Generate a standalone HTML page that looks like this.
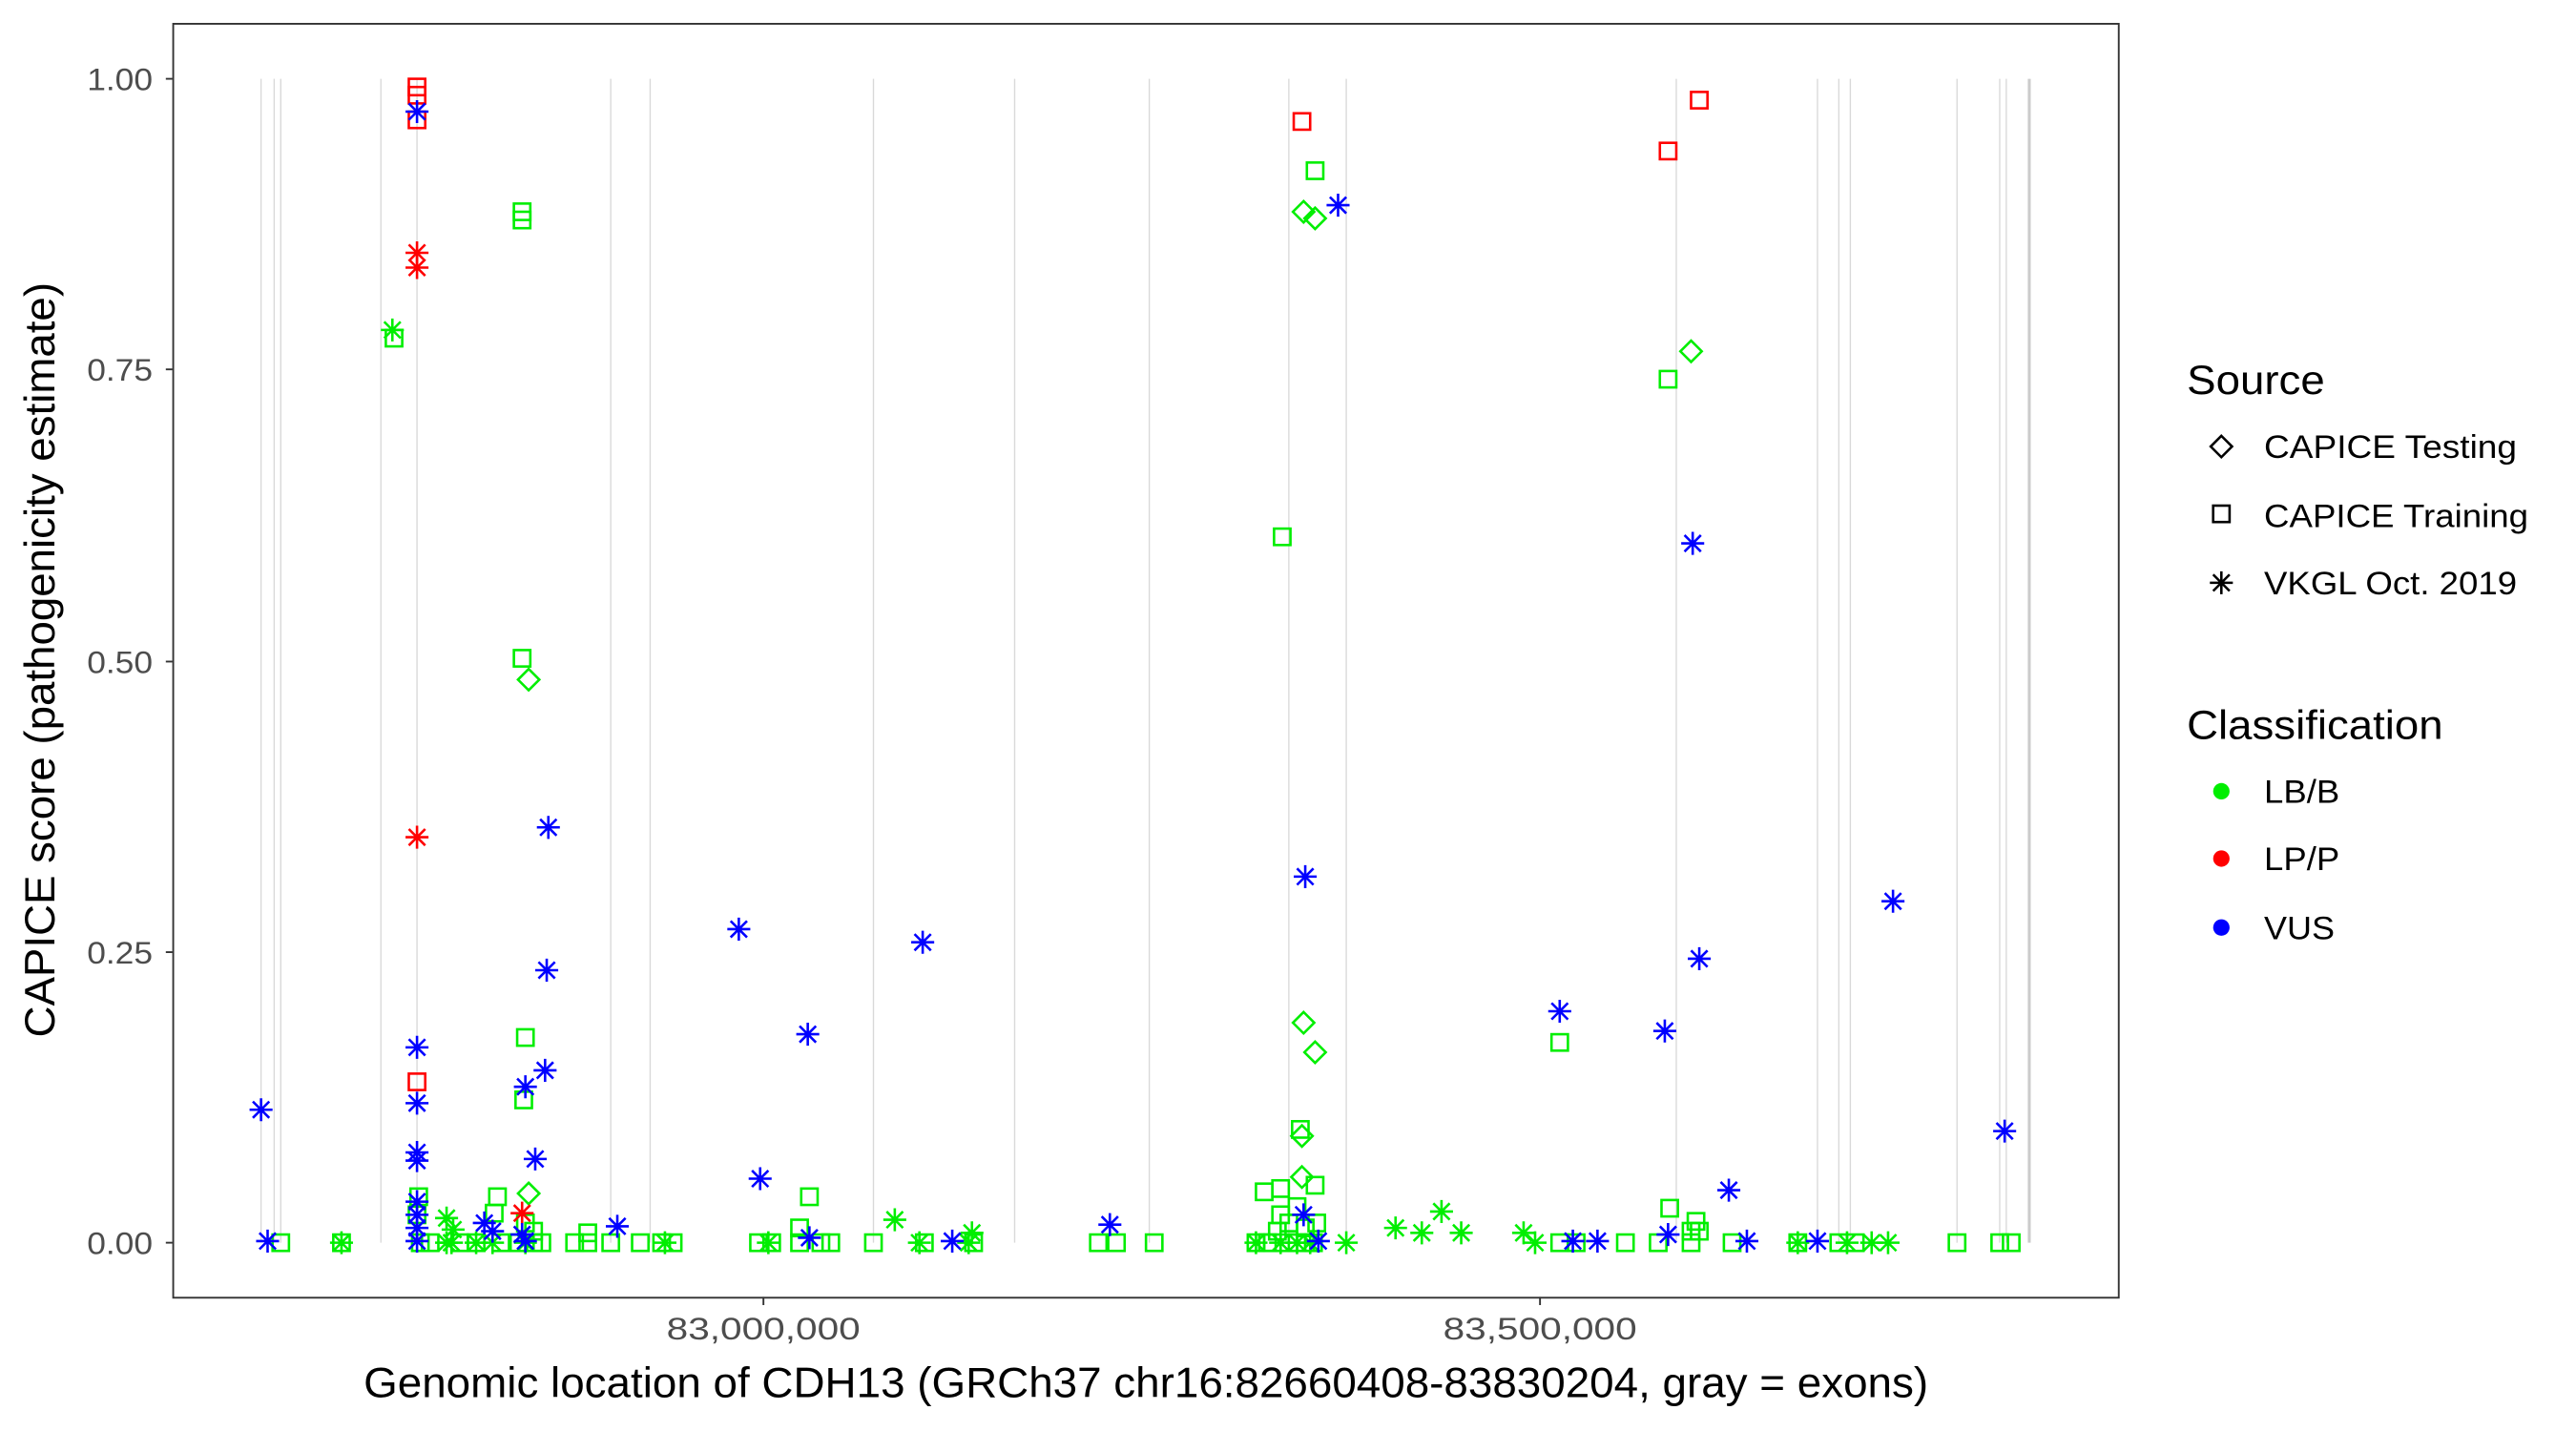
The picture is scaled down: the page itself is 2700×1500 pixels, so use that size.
<!DOCTYPE html>
<html><head><meta charset="utf-8"><style>
html,body{margin:0;padding:0;background:#fff;}
svg{display:block;}
text{font-family:"Liberation Sans",Arial,sans-serif;}
</style></head><body>
<svg id="s" width="2700" height="1500" viewBox="0 0 1569 871.7" preserveAspectRatio="none" xmlns="http://www.w3.org/2000/svg">
<rect x="0" y="0" width="1569" height="872" fill="#fff"/>
<g id="ex" stroke="#d9d9d9" stroke-width="0.8"></g>
<g id="pts" fill="none" stroke-width="1.5"></g>
<rect x="105.5" y="14.5" width="1185" height="776" fill="none" stroke="#333" stroke-width="1.1"/>
<g stroke="#333" stroke-width="1.1">
<line x1="101" y1="48" x2="105" y2="48"/><line x1="101" y1="225" x2="105" y2="225"/>
<line x1="101" y1="403" x2="105" y2="403"/><line x1="101" y1="580" x2="105" y2="580"/>
<line x1="101" y1="757" x2="105" y2="757"/>
<line x1="465" y1="790" x2="465" y2="795"/><line x1="938" y1="790" x2="938" y2="795"/>
</g>
<g font-size="19" fill="#4d4d4d" text-anchor="end">
<text x="93" y="55" textLength="40" lengthAdjust="spacingAndGlyphs">1.00</text>
<text x="93" y="232" textLength="40" lengthAdjust="spacingAndGlyphs">0.75</text>
<text x="93" y="410" textLength="40" lengthAdjust="spacingAndGlyphs">0.50</text>
<text x="93" y="587" textLength="40" lengthAdjust="spacingAndGlyphs">0.25</text>
<text x="93" y="764" textLength="40" lengthAdjust="spacingAndGlyphs">0.00</text>
</g>
<g font-size="19" fill="#4d4d4d" text-anchor="middle">
<text x="465" y="816" textLength="118" lengthAdjust="spacingAndGlyphs">83,000,000</text>
<text x="938" y="816" textLength="118" lengthAdjust="spacingAndGlyphs">83,500,000</text>
</g>
<text x="698" y="851" font-size="26" text-anchor="middle" fill="#000" textLength="953" lengthAdjust="spacingAndGlyphs">Genomic location of CDH13 (GRCh37 chr16:82660408-83830204, gray = exons)</text>
<text transform="translate(33,402) rotate(-90)" font-size="26" text-anchor="middle" fill="#000" textLength="460" lengthAdjust="spacingAndGlyphs">CAPICE score (pathogenicity estimate)</text>
<text x="1332" y="240" font-size="25" textLength="84" lengthAdjust="spacingAndGlyphs">Source</text>
<text x="1379" y="279" font-size="20" textLength="154" lengthAdjust="spacingAndGlyphs">CAPICE Testing</text>
<text x="1379" y="321" font-size="20" textLength="161" lengthAdjust="spacingAndGlyphs">CAPICE Training</text>
<text x="1379" y="362" font-size="20" textLength="154" lengthAdjust="spacingAndGlyphs">VKGL Oct. 2019</text>
<text x="1332" y="450" font-size="25" textLength="156" lengthAdjust="spacingAndGlyphs">Classification</text>
<text x="1379" y="489" font-size="20" textLength="46" lengthAdjust="spacingAndGlyphs">LB/B</text>
<text x="1379" y="530" font-size="20" textLength="46" lengthAdjust="spacingAndGlyphs">LP/P</text>
<text x="1379" y="572" font-size="20" textLength="43" lengthAdjust="spacingAndGlyphs">VUS</text>
<g id="leg" fill="none" stroke-width="1.5"></g>
</svg>
<script>
var NS="http://www.w3.org/2000/svg";
function el(p,t,a){var e=document.createElementNS(NS,t);for(var k in a)e.setAttribute(k,a[k]);p.appendChild(e);return e;}
var ex=document.getElementById('ex');
[159,167,171,232,254,372,396,532,618,700,785,820,1021,1107,1120,1127,1192,1218,1222].forEach(function(x){el(ex,'line',{x1:x,y1:48,x2:x,y2:757});});
el(ex,'line',{x1:1236,y1:48,x2:1236,y2:757,'stroke-width':1.8,stroke:'#ccc'});
function sq(g,x,y,c){el(g,'rect',{x:x-5,y:y-5,width:10,height:10,stroke:c});}
function di(g,x,y,c){var s=6.5;el(g,'path',{d:'M'+x+' '+(y-s)+'L'+(x+s)+' '+y+'L'+x+' '+(y+s)+'L'+(x-s)+' '+y+'Z',stroke:c});}
function st(g,x,y,c){var r=7,d=5;el(g,'path',{d:'M'+(x-r)+' '+y+'H'+(x+r)+'M'+x+' '+(y-r)+'V'+(y+r)+'M'+(x-d)+' '+(y-d)+'L'+(x+d)+' '+(y+d)+'M'+(x-d)+' '+(y+d)+'L'+(x+d)+' '+(y-d),stroke:c});}
var g=document.getElementById('pts');
var B='#0000ff',R='#ff0000',G='#00ee00';
[171,208,256,290,305,330,350,358,372,390,403,410,462,470,487,506,532,563,593,669,680,703,765,772,785,800,950,960,990,1010,1030,1055,1095,1120,1130,1192,1218,1225,262,280,316,325,500,775,790,795].forEach(function(x){sq(g,x,757,G);});
[208,272,275,290,300,320,405,468,560,590,765,790,820,935,1095,1125,1140,1150,780,798].forEach(function(x){st(g,x,757,G);});
[[545,743],[592,751],[850,748],[866,751],[878,738],[890,751],[928,751],[272,742],[276,749],[239,201]].forEach(function(p){st(g,p[0],p[1],G);});
[[240,206],[318,129],[318,134],[318,401],[320,632],[319,670],[303,729],[301,739],[255,729],[254,740],[781,327],[801,104],[950,635],[1016,231],[1017,736],[1033,744],[1030,750],[770,726],[780,724],[792,688],[801,722],[790,735],[780,740],[785,745],[795,748],[778,750],[487,748],[493,729],[358,751],[320,745],[325,750],[1035,750],[802,745]].forEach(function(p){sq(g,p[0],p[1],G);});
[[322,414],[322,727],[794,129],[801,133],[794,623],[801,641],[793,692],[793,717],[1030,214]].forEach(function(p){di(g,p[0],p[1],G);});
[[254,53],[254,58],[254,73],[254,659],[793,74],[1016,92],[1035,61]].forEach(function(p){sq(g,p[0],p[1],R);});
[[254,154],[254,163],[254,510],[318,739]].forEach(function(p){st(g,p[0],p[1],R);});
[[159,676],[163,756],[254,68],[254,638],[254,672],[254,702],[254,707],[254,732],[254,740],[254,748],[254,756],[295,745],[300,750],[320,662],[332,652],[334,504],[333,591],[326,706],[320,756],[318,752],[376,747],[450,566],[463,718],[492,630],[493,754],[562,574],[580,756],[676,746],[795,534],[794,740],[815,125],[803,756],[950,616],[958,756],[973,756],[1014,628],[1016,752],[1031,331],[1035,584],[1053,725],[1064,756],[1107,756],[1153,549],[1221,689]].forEach(function(p){st(g,p[0],p[1],B);});
var l=document.getElementById('leg');
di(l,1353,272,'#000');sq(l,1353,313,'#000');st(l,1353,355,'#000');
[[482,G],[523,R],[565,B]].forEach(function(p){el(l,'circle',{cx:1353,cy:p[0],r:5,fill:p[1],stroke:'none'});});
</script>
</body></html>
